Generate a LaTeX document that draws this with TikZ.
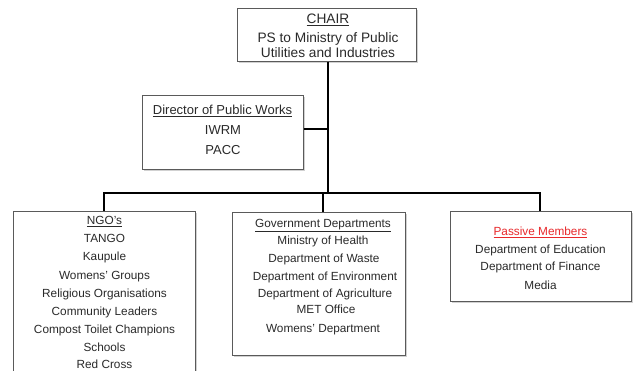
\documentclass[tikz,border=0pt]{standalone}
\usepackage{fontspec}
\setmainfont{Liberation Sans}
\usetikzlibrary{shadows}
\definecolor{txt}{HTML}{2A2A2A}
\definecolor{bord}{HTML}{5A5A5A}
\definecolor{redt}{HTML}{E8282B}
\newcommand{\fbig}{\fontsize{13.7}{15}\selectfont}
\newcommand{\fmid}{\fontsize{13}{15}\selectfont}
\newcommand{\fsml}{\fontsize{11.8}{14}\selectfont}
\begin{document}
\begin{tikzpicture}[x=1pt,y=-1pt,
  box/.style={draw=bord, line width=0.8pt, fill=white, inner sep=0, anchor=north west,
    drop shadow={shadow xshift=1.6pt, shadow yshift=-1.6pt, fill=black!30, opacity=0.6}},
  conn/.style={draw=black, line width=2.3pt},
  lnbig/.style={anchor=base, inner sep=0, font=\fbig, text=txt},
  lnmid/.style={anchor=base, inner sep=0, font=\fmid, text=txt},
  ln/.style={anchor=base, inner sep=0, font=\fsml, text=txt}]
\useasboundingbox (0,0) rectangle (638,370);
\begin{scope}
\clip (0,0) rectangle (638,370);
% boxes
\node[box, minimum width=179pt, minimum height=53pt] (chair) at (237,8) {};
\node[box, minimum width=161pt, minimum height=74pt] (dir) at (142,95) {};
\node[box, minimum width=182pt, minimum height=175pt] (ngo) at (13,211) {};
\node[box, minimum width=173pt, minimum height=143pt] (gov) at (232,212) {};
\node[box, minimum width=181pt, minimum height=90pt] (pas) at (450,211) {};

% junction coordinates
\coordinate (j) at (328,193);
\coordinate (dj) at (328,129);
\coordinate (bl) at (104,193);
\coordinate (bm) at (323,193);
\coordinate (br) at (540,193);

% connectors
\draw[conn] (chair.south -| j) -- (j);
\draw[conn] (dir.east |- dj) -- (dj);
\draw[conn, line cap=rect] (bl) -- (br);
\draw[conn] (bl) -- (ngo.north -| bl);
\draw[conn] (bm) -- (gov.north -| bm);
\draw[conn] (br) -- (pas.north -| br);

% chair text
\node[lnbig] (c0) at (328,23.2) {\underline{CHAIR}};
\node[lnbig] (c1) at (328,42.2) {PS to Ministry of Public};
\node[lnbig] (c2) at (328,57.2) {Utilities and Industries};

% director text
\node[lnmid] (d0) at (222.5,114.7) {\underline{Director of Public Works}};
\node[lnmid] (d1) at (223,134) {IWRM};
\node[lnmid] (d2) at (223,154) {PACC};

% NGO text
\node[ln] (n0) at (104.5,224.2) {\underline{NGO's}};
\node[ln] (n1) at (104.5,242.5) {TANGO};
\node[ln] (n2) at (104.5,260.9) {Kaupule};
\node[ln] (n3) at (104.5,279.2) {Womens' Groups};
\node[ln] (n4) at (104.5,297.2) {Religious Organisations};
\node[ln] (n5) at (104.5,315.2) {Community Leaders};
\node[ln] (n6) at (104.5,333.2) {Compost Toilet Champions};
\node[ln] (n7) at (104.5,351.2) {Schools};
\node[ln] (n8) at (104.5,368.6) {Red Cross};

% government text
\node[ln] (g0) at (323,227.2) {\underline{Government Departments}};
\node[ln] (g1) at (323,244.2) {Ministry of Health};
\node[ln] (g2) at (324,262.2) {Department of Waste};
\node[ln] (g3) at (325,280.2) {Department of Environment};
\node[ln] (g4) at (325,297.2) {Department of Agriculture};
\node[ln] (g5) at (326,313.2) {MET Office};
\node[ln] (g6) at (323,332.2) {Womens' Department};

% passive text
\node[ln] (p0) at (540.5,235.9) {\textcolor{redt}{\underline{Passive Members}}};
\node[ln] (p1) at (540.5,253.5) {Department of Education};
\node[ln] (p2) at (540.5,270.9) {Department of Finance};
\node[ln] (p3) at (540.5,289.2) {Media};
\end{scope}
\end{tikzpicture}
\end{document}
